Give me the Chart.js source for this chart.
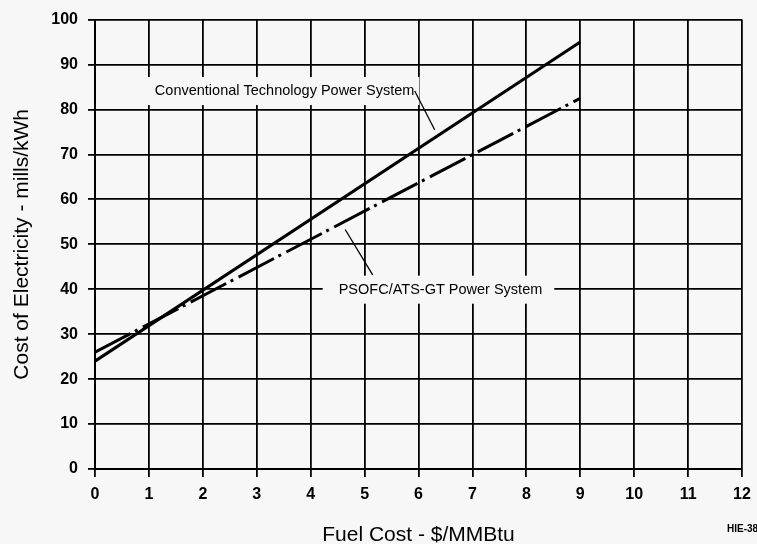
<!DOCTYPE html>
<html><head><meta charset="utf-8">
<script src="https://cdn.jsdelivr.net/npm/chart.js@4"></script>
<style>html,body{margin:0;padding:0;background:#f7f7f7;}canvas{display:block}</style>
</head><body>
<canvas id="c" width="757" height="544"></canvas>
<script>
// ---- data ----
const fuelCost = [0, 9];                 // $/MMBtu
const conventionalCOE = [24, 95];        // mills/kWh
const psofcCOE = [26, 82.5];             // mills/kWh
const xTicks = [0, 1, 2, 3, 4, 5, 6, 7, 8, 9, 10, 11, 12];
const yTicks = [0, 10, 20, 30, 40, 50, 60, 70, 80, 90, 100];
const seriesNames = ['Conventional Technology Power System', 'PSOFC/ATS-GT Power System'];
const xTitle = 'Fuel Cost - $/MMBtu';
const yTitle = 'Cost of Electricity - mills/kWh';
const figureId = 'HIE-38';

const FONT = "'Liberation Sans', Arial, sans-serif";
const BG = '#f7f7f7';

// annotation anchors (data coordinates) for the in-plot labels
const labelAnchors = [
  { text: seriesNames[0], x: 1.11, y: 84.1, padL: 11, padR: 5, h: 28, lead: [[5.93, 84.1], [6.30, 75.5]] },
  { text: seriesNames[1], x: 4.52, y: 39.9, padL: 16, padR: 12, h: 28, lead: [[4.64, 53.3], [5.15, 43.2]] }
];

const bgPlugin = {
  id: 'bg',
  beforeDraw(chart) {
    const ctx = chart.ctx;
    ctx.save(); ctx.fillStyle = BG; ctx.fillRect(0, 0, chart.width, chart.height); ctx.restore();
  }
};

const labelPlugin = {
  id: 'labels',
  beforeDatasetsDraw(chart) {
    const ctx = chart.ctx, xs = chart.scales.x, ys = chart.scales.y;
    ctx.save();
    ctx.font = '14.5px ' + FONT;
    labelAnchors.forEach(a => {
      const px = xs.getPixelForValue(a.x), py = ys.getPixelForValue(a.y);
      const w = ctx.measureText(a.text).width;
      ctx.fillStyle = BG;
      ctx.fillRect(px - a.padL, py - a.h / 2, w + a.padL + a.padR, a.h);
    });
    ctx.restore();
  },
  afterDatasetsDraw(chart) {
    const ctx = chart.ctx, xs = chart.scales.x, ys = chart.scales.y;
    ctx.save();
    ctx.font = '14.5px ' + FONT;
    ctx.fillStyle = '#000';
    ctx.textBaseline = 'middle';
    ctx.textAlign = 'left';
    labelAnchors.forEach(a => {
      const px = xs.getPixelForValue(a.x), py = ys.getPixelForValue(a.y);
      ctx.fillText(a.text, px, py);
      ctx.beginPath();
      ctx.strokeStyle = '#000';
      ctx.lineWidth = 1.3;
      ctx.moveTo(xs.getPixelForValue(a.lead[0][0]), ys.getPixelForValue(a.lead[0][1]));
      ctx.lineTo(xs.getPixelForValue(a.lead[1][0]), ys.getPixelForValue(a.lead[1][1]));
      ctx.stroke();
    });
    ctx.font = 'bold 10px ' + FONT;
    ctx.textBaseline = 'alphabetic';
    ctx.fillText(figureId, 727, 532);
    ctx.restore();
  }
};

const toPoints = (xs, ys) => xs.map((x, i) => ({ x, y: ys[i] }));

Chart.defaults.color = '#000';
Chart.defaults.font.family = FONT;

new Chart(document.getElementById('c'), {
  type: 'scatter',
  data: {
    datasets: [
      { label: seriesNames[0], data: toPoints(fuelCost, conventionalCOE), showLine: true,
        borderColor: '#000', borderWidth: 3, pointRadius: 0, tension: 0 },
      { label: seriesNames[1], data: toPoints(fuelCost, psofcCOE), showLine: true,
        borderColor: '#000', borderWidth: 3, pointRadius: 0, tension: 0, borderDash: [40, 5, 3, 6] }
    ]
  },
  options: {
    responsive: false,
    animation: false,
    layout: { padding: { top: 16, right: 15, left: 0, bottom: 0 } },
    plugins: { legend: { display: false }, tooltip: { enabled: false } },
    scales: {
      x: {
        type: 'linear', min: xTicks[0], max: xTicks[xTicks.length - 1],
        afterBuildTicks: s => { s.ticks = xTicks.map(v => ({ value: v })); },
        afterFit: s => { s.height = 75; },
        ticks: { font: { size: 16, weight: 'bold', lineHeight: 1.6 }, color: '#000', padding: 5, maxRotation: 0 },
        grid: { color: '#000', lineWidth: 1.8, tickLength: 8, tickColor: '#000' },
        border: { color: '#000', width: 2 },
        title: { display: true, text: xTitle, font: { size: 21 }, color: '#000', padding: { top: 0, bottom: -4 } }
      },
      y: {
        type: 'linear', min: yTicks[0], max: yTicks[yTicks.length - 1],
        afterBuildTicks: s => { s.ticks = yTicks.map(v => ({ value: v })); },
        afterFit: s => { s.width = 95; },
        ticks: { font: { size: 16, weight: 'bold' }, color: '#000', padding: 10 },
        grid: { color: '#000', lineWidth: 1.8, tickLength: 7, tickColor: '#000' },
        border: { color: '#000', width: 2 },
        title: { display: true, text: yTitle, font: { size: 21 }, color: '#000', padding: { top: 10, bottom: 0 } }
      }
    }
  },
  plugins: [bgPlugin, labelPlugin]
});
</script>
</body></html>
